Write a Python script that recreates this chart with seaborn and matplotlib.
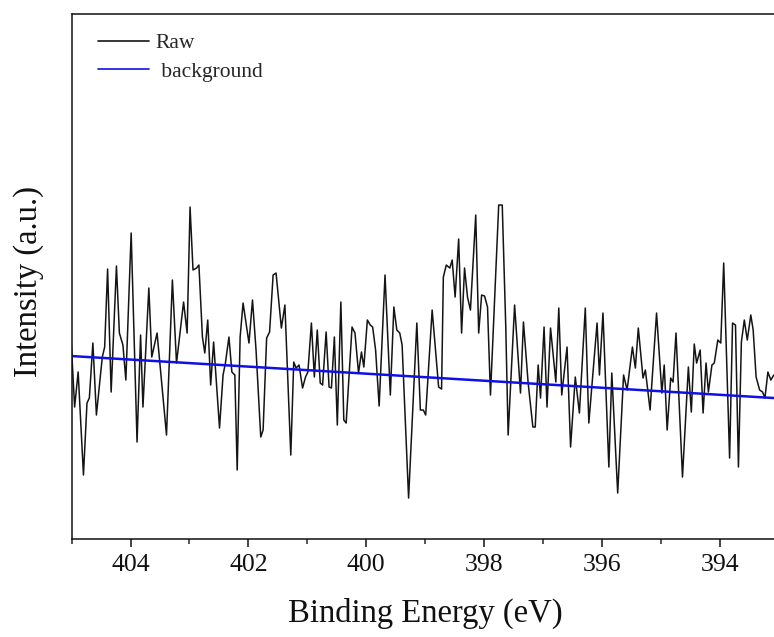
import matplotlib
matplotlib.use("Agg")
import matplotlib.pyplot as plt
import seaborn as sns
import pandas as pd
from matplotlib.ticker import MultipleLocator, NullLocator

# N 1s region: raw counts (a.u.) versus binding energy (eV)
energy = [
    405.01, 404.95, 404.89, 404.80, 404.74, 404.70, 404.64, 404.58, 404.48, 404.44,
    404.39, 404.33, 404.24, 404.19, 404.13, 404.08, 403.99, 403.89, 403.83, 403.79,
    403.69, 403.64, 403.55, 403.39, 403.29, 403.22, 403.10, 403.04,
    402.99, 402.94, 402.88, 402.84, 402.78, 402.74, 402.69, 402.64, 402.59, 402.49,
    402.43, 402.39, 402.33, 402.28, 402.23, 402.19, 402.14, 402.09, 401.99, 401.93,
    401.87, 401.79, 401.75, 401.69, 401.64, 401.58, 401.53, 401.44, 401.38, 401.28,
    401.23, 401.19, 401.14, 401.08, 401.03, 400.99,
    400.93, 400.88, 400.83, 400.78, 400.74, 400.68, 400.63, 400.59, 400.54, 400.49,
    400.43, 400.38, 400.34, 400.24, 400.19, 400.13, 400.08, 400.04, 399.98, 399.93,
    399.89, 399.84, 399.78, 399.68, 399.59, 399.53, 399.48, 399.43, 399.39, 399.28,
    399.14, 399.08, 399.03, 398.99,
    398.88, 398.77, 398.72, 398.69, 398.64, 398.58, 398.54, 398.49, 398.43, 398.38,
    398.33, 398.28, 398.23, 398.14, 398.09, 398.04, 397.99, 397.94, 397.89, 397.75,
    397.69, 397.63, 397.59, 397.48, 397.38, 397.33, 397.25, 397.17, 397.13, 397.08,
    397.04, 396.98, 396.93,
    396.87, 396.78, 396.73, 396.68, 396.59, 396.53, 396.45, 396.38, 396.28, 396.22,
    396.08, 396.04, 395.98, 395.88, 395.83, 395.73, 395.63, 395.57, 395.48, 395.43,
    395.38, 395.30, 395.26, 395.18, 395.07, 394.98,
    394.94, 394.89, 394.83, 394.79, 394.74, 394.63, 394.53, 394.48, 394.43, 394.39,
    394.33, 394.28, 394.23, 394.19, 394.13, 394.09, 394.03, 393.98, 393.93, 393.83,
    393.78, 393.73, 393.68, 393.63, 393.58, 393.53, 393.47, 393.43, 393.38, 393.32,
    393.27, 393.23, 393.18, 393.13, 393.08,
]
raw = [
    199, 132, 167, 64, 136, 141, 196, 124, 182, 192,
    270, 147, 273, 206, 194, 159, 306, 97, 204, 132,
    251, 182, 206, 104, 259, 176, 237, 206,
    332, 269, 271, 274, 202, 186, 219, 154, 197, 111,
    164, 176, 202, 167, 164, 69, 202, 236, 196, 239,
    189, 102, 109, 201, 207, 264, 266, 211, 234, 84,
    177, 171, 174, 151, 162, 167,
    216, 162, 209, 156, 154, 207, 152, 151, 202, 114,
    237, 119, 116, 212, 206, 166, 187, 172, 219, 214,
    212, 189, 133, 264, 144, 232, 209, 206, 194, 41,
    216, 129, 129, 124,
    229, 152, 150, 262, 274, 271, 279, 242, 300, 206,
    271, 242, 229, 324, 206, 244, 243, 232, 144, 334,
    334, 212, 104, 234, 146, 217, 156, 112, 112, 174,
    141, 212, 132,
    211, 157, 231, 144, 192, 92, 162, 126, 231, 116,
    216, 164, 226, 72, 166, 46, 164, 149, 192, 171,
    211, 161, 169, 129, 226, 146,
    174, 109, 161, 157, 206, 62, 172, 127, 195, 176,
    189, 126, 176, 147, 174, 176, 199, 196, 276, 81,
    216, 214, 72, 197, 219, 199, 224, 209, 162, 149,
    147, 141, 167, 159, 164,
]

# Linear background endpoints
bg_energy = [405.01, 393.08]
bg_counts = [183, 141]

raw_df = pd.DataFrame({"Binding Energy (eV)": energy, "Intensity": raw})
bg_df = pd.DataFrame({"Binding Energy (eV)": bg_energy, "Intensity": bg_counts})

sns.set_style("ticks")
plt.rcParams["font.family"] = ["Liberation Serif", "DejaVu Serif"]

fig = plt.figure(figsize=(7.74, 6.37), dpi=100)
ax = fig.add_axes([0.0926, 0.1538, 0.9132, 0.8242])

sns.lineplot(data=raw_df, x="Binding Energy (eV)", y="Intensity", ax=ax,
             color="#141414", linewidth=1.1, sort=False, estimator=None,
             label="Raw")
sns.lineplot(data=bg_df, x="Binding Energy (eV)", y="Intensity", ax=ax,
             color="#1010e6", linewidth=1.8, sort=False, estimator=None,
             label=" background")

ax.set_xlim(405.0, 393.0)
ax.set_ylim(0, 525)

ax.xaxis.set_major_locator(MultipleLocator(2))
ax.xaxis.set_minor_locator(MultipleLocator(1))
ax.yaxis.set_major_locator(NullLocator())
ax.yaxis.set_minor_locator(NullLocator())
ax.tick_params(axis="x", which="major", direction="out", length=6.0,
               width=1.1, pad=5, labelsize=18.5, colors="#111111")
ax.tick_params(axis="x", which="minor", direction="out", length=3.6,
               width=1.1)

for side in ["left", "right", "top", "bottom"]:
    ax.spines[side].set_visible(True)
    ax.spines[side].set_linewidth(1.1)
    ax.spines[side].set_color("#111111")

ax.set_xlabel("Binding Energy (eV)", fontsize=23.5, color="#111111")
ax.set_ylabel("Intensity (a.u.)", fontsize=23.5, color="#111111")
ax.xaxis.set_label_coords(0.5, -0.112)
ax.yaxis.set_label_coords(-0.0396, 0.491)

leg = ax.legend(loc="upper left", bbox_to_anchor=(0.0372, 0.9638),
                frameon=False, fontsize=15.5, borderpad=0, borderaxespad=0,
                handlelength=2.35, handletextpad=0.33, labelspacing=0.4)
for line in leg.get_lines():
    line.set_linewidth(1.2)

fig.savefig("out.png", dpi=100)
